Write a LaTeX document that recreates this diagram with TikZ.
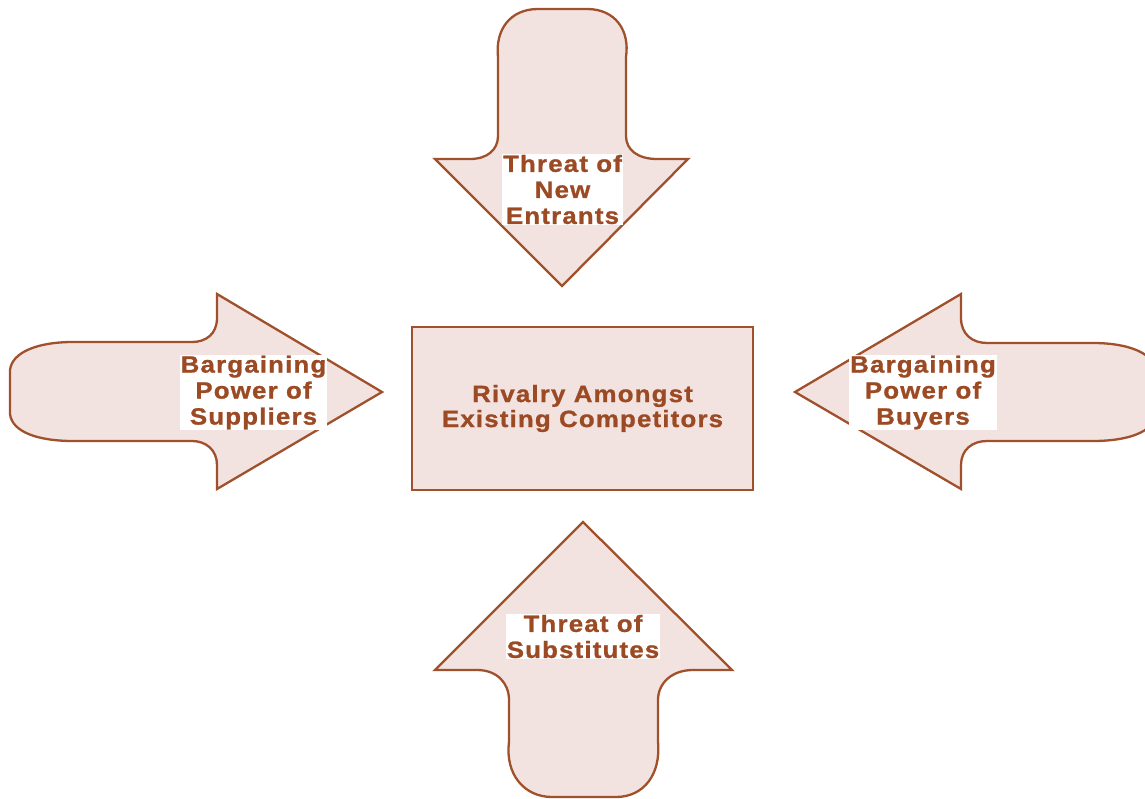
\documentclass[tikz,border=0pt]{standalone}
\usepackage{fontspec}
\setmainfont{Liberation Sans}
\newfontfamily\lblfont{Liberation Sans}[FakeStretch=1.1,LetterSpace=5,FakeBold=1]
\definecolor{arrowfill}{HTML}{F2E3E0}
\definecolor{arrowline}{HTML}{A0502A}
\definecolor{lbltext}{HTML}{9C4A24}
\begin{document}
\begin{tikzpicture}[x=1pt,y=-1pt,
  force/.style={draw=arrowline,fill=arrowfill,line width=2.3pt,line join=miter},
  lbl/.style={fill=white,inner sep=1pt,align=center,text=lbltext,
    font=\lblfont\bfseries\fontsize{23.5}{26}\selectfont},
  core/.style={draw=arrowline,fill=arrowfill,line width=2.3pt,align=center,text=lbltext,
    minimum width=341pt,minimum height=163pt,inner sep=0pt,
    font=\lblfont\bfseries\fontsize{23.5}{25}\selectfont}]
\useasboundingbox (0,0) rectangle (1145,799);

% downward arrow: threat of new entrants
\draw[force] (562,286) -- (435,159) -- (470,159)
  .. controls (487,159) and (498,150) .. (498,136) -- (498,57)
  .. controls (495,30) and (510,9) .. (538,9) -- (587,9)
  .. controls (615,9) and (630,30) .. (626,57) -- (626,136)
  .. controls (626,150) and (638,159) .. (657,159) -- (688,159) -- cycle;

% rightward arrow: bargaining power of suppliers
\draw[force] (382,392) -- (217,294) -- (217,318)
  .. controls (217,334) and (206,342) .. (192,342) -- (73,342)
  .. controls (38,342) and (12,352) .. (10,370) -- (10,414)
  .. controls (12,432) and (38,441) .. (73,441) -- (192,441)
  .. controls (206,441) and (217,450) .. (217,465) -- (217,489) -- cycle;

% leftward arrow: bargaining power of buyers
\draw[force] (795,392) -- (961,294) -- (961,318)
  .. controls (961,334) and (972,343) .. (987,343) -- (1093,343)
  .. controls (1128,343) and (1154,353) .. (1156,371) -- (1156,414)
  .. controls (1154,432) and (1128,441) .. (1093,441) -- (987,441)
  .. controls (972,441) and (961,450) .. (961,465) -- (961,489) -- cycle;

% upward arrow: threat of substitutes
\draw[force] (583,522) -- (732,670) -- (693,670)
  .. controls (672,670) and (658,683) .. (658,700) -- (658,742)
  .. controls (661,774) and (644,797) .. (616,797) -- (552,797)
  .. controls (524,797) and (505,774) .. (509,742) -- (509,700)
  .. controls (509,683) and (497,670) .. (477,670) -- (435,670) -- cycle;

% central box
\node[core] (rivalry) at (582.5,408.5) {Rivalry Amongst\\Existing Competitors};

% labels on the arrows
\node[lbl,minimum width=121pt] (entrants) at (562.5,189.5) {Threat of\\New\\Entrants};
\node[lbl,minimum width=147pt] (suppliers) at (253.5,392.5) {Bargaining\\Power of\\Suppliers};
\node[lbl,minimum width=122pt] (buyers) at (923,392.5) {Bargaining\\Power of\\Buyers};
\node[lbl,minimum width=154pt] (substitutes) at (583,636.5) {Threat of\\Substitutes};
\end{tikzpicture}
\end{document}
